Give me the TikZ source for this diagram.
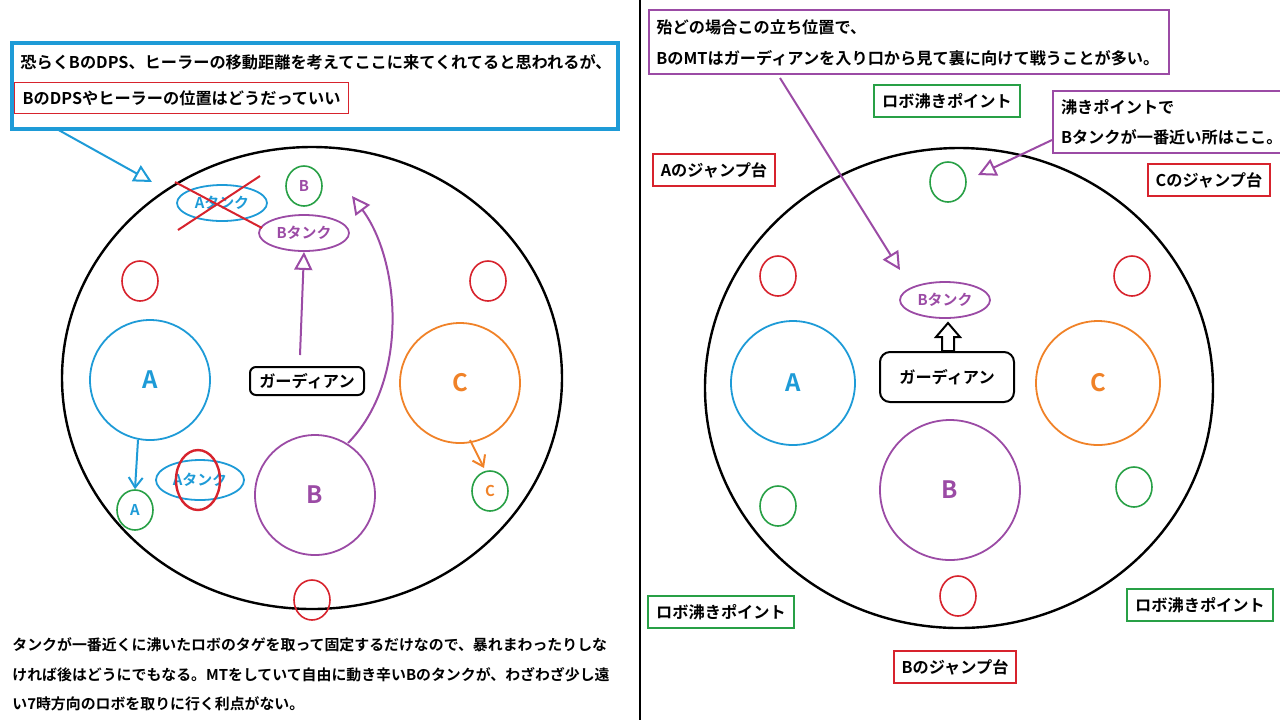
\documentclass[tikz,border=0pt]{standalone}
\usepackage{fontspec}
\setmainfont{Noto Sans CJK JP}[BoldFont={* Bold}]
\usetikzlibrary{arrows.meta}
\definecolor{cblue}{RGB}{30,155,215}
\definecolor{cred}{RGB}{215,35,45}
\definecolor{cgreen}{RGB}{40,160,70}
\definecolor{cpurple}{RGB}{155,75,165}
\definecolor{corange}{RGB}{240,130,40}
\tikzset{
  txt/.style={font=\bfseries\fontsize{8.1}{10}\selectfont, inner sep=2pt},
  bodytxt/.style={font=\bfseries\fontsize{7.45}{9}\selectfont, inner sep=2pt},
  labelbox/.style={txt, draw=#1, line width=1pt, inner xsep=4pt, inner ysep=4pt},
  spot/.style={draw=#1, line width=0.8pt, ellipse, minimum width=18pt, minimum height=20pt, inner sep=0pt},
  tankov/.style={draw=#1, line width=0.9pt, ellipse, text=#1, minimum width=45pt, minimum height=18pt, inner sep=0pt, bodytxt},
  zone/.style={draw=#1, line width=0.9pt, circle, minimum size=60pt, text=#1, font=\bfseries\fontsize{12}{12}\selectfont},
  openarr/.style={draw=#1, line width=1pt, -{Triangle[open, length=9pt, width=9pt]}},
  thinarr/.style={draw=#1, line width=1pt, -{Straight Barb[length=5pt, width=7pt]}}
}
\usetikzlibrary{shapes.geometric}
\begin{document}
\begin{tikzpicture}[x=0.5pt,y=-0.5pt]
  \useasboundingbox (0,0) rectangle (1280,720);

  % Left half

  \draw[line width=1.2pt] (312,378) ellipse [x radius=250, y radius=231];
  \draw[line width=1pt] (640,0) -- (640,720);

  \node[draw=cblue, line width=2pt, minimum width=303pt, minimum height=43pt, anchor=north west] (noteBox) at (10,41) {};
  \node[txt, anchor=west] (noteA) at (16,62) {恐らくBのDPS、ヒーラーの移動距離を考えてここに来てくれてると思われるが、};
  \node[txt, draw=cred, line width=0.6pt, anchor=west, inner sep=4pt] (noteB) at (14,98) {BのDPSやヒーラーの位置はどうだっていい};

  \node[tankov=cblue] (aTankTop) at (222,203) {Aタンク};
  \node[spot=cgreen, text=cpurple, bodytxt] (bSpotL) at (304,186) {B};
  \node[tankov=cpurple] (bTankL) at (304,233) {Bタンク};
  \draw[cred, line width=1pt] (175,182) -- (262,228);
  \draw[cred, line width=1pt] (178,230) -- (260,176);

  \coordinate (noteEnd) at (152,182);
  \draw[openarr=cblue] (55,128) -- (noteEnd);

  \node[spot=cred] (redL1) at (140,281) {};
  \node[spot=cred] (redL2) at (488,281) {};
  \node[spot=cred] (redL3) at (312,600) {};

  \node[zone=cblue] (zoneAL) at (150,380) {A};
  \node[zone=corange] (zoneCL) at (460,383) {C};
  \node[zone=cpurple] (zoneBL) at (315,495) {B};
  \node[txt, draw, line width=1pt, rounded corners=3pt, minimum width=57pt, minimum height=14pt] (guardL) at (307,381) {ガーディアン};

  \draw[openarr=cpurple] (300,355) -- (bTankL.south);
  \draw[openarr=cpurple] (348,443) .. controls (410,380) and (400,260) .. (352,196);

  \node[spot=cgreen, text=cblue, bodytxt] (aSpot) at (135,510) {A};
  \node[tankov=cblue, minimum width=43pt, minimum height=20pt] (aTankBot) at (200,480) {Aタンク};
  \node[draw=cred, line width=1.2pt, ellipse, minimum width=22pt, minimum height=30pt] (aCross) at (198,480) {};
  \draw[thinarr=cblue] (138,440) -- (aSpot.north);
  \node[spot=cgreen, text=corange, bodytxt] (cSpot) at (490,491) {C};
  \draw[thinarr=corange] (470,440) -- (484,468);

  \node[bodytxt, anchor=west] (bodyA) at (8,645) {タンクが一番近くに沸いたロボのタゲを取って固定するだけなので、暴れまわったりしな};
  \node[bodytxt, anchor=west] (bodyB) at (8,675) {ければ後はどうにでもなる。MTをしていて自由に動き辛いBのタンクが、わざわざ少し遠};
  \node[bodytxt, anchor=west] (bodyC) at (8,704) {い7時方向のロボを取りに行く利点がない。};

  % Right half

  \draw[line width=1.2pt] (959,388) ellipse [x radius=254, y radius=240];

  \node[draw=cpurple, line width=1pt, anchor=north west, minimum width=260pt, minimum height=32pt] (posBox) at (648,9) {};
  \node[txt, anchor=west] (posA) at (652,27) {殆どの場合この立ち位置で、};
  \node[txt, anchor=west] (posB) at (652,58) {BのMTはガーディアンを入り口から見て裏に向けて戦うことが多い。};
  \node[labelbox=cgreen] (roboTop) at (947,101) {ロボ沸きポイント};
  \node[txt, draw=cpurple, line width=1pt, anchor=north west, align=left, inner sep=4pt] (nearBox) at (1052,90) {沸きポイントで\\[5pt]Bタンクが一番近い所はここ。};
  \node[labelbox=cred] (jumpA) at (714,170) {Aのジャンプ台};
  \node[labelbox=cred] (jumpC) at (1209,180) {Cのジャンプ台};
  \node[labelbox=cgreen] (roboL) at (721,612) {ロボ沸きポイント};
  \node[labelbox=cgreen] (roboR) at (1200,605) {ロボ沸きポイント};
  \node[labelbox=cred] (jumpB) at (955,667) {Bのジャンプ台};

  \node[spot=cgreen] (greenR1) at (948,182) {};
  \node[spot=cgreen] (greenR2) at (778,506) {};
  \node[spot=cgreen] (greenR3) at (1134,487) {};
  \node[spot=cred] (redR1) at (778,276) {};
  \node[spot=cred] (redR2) at (1132,276) {};
  \node[spot=cred] (redR3) at (958,596) {};

  \node[tankov=cpurple] (bTankR) at (945,300) {Bタンク};
  \node[txt, draw, line width=1pt, rounded corners=5pt, minimum width=67pt, minimum height=25pt] (guardR) at (947,377) {ガーディアン};
  \draw[line width=1pt, fill=white] (942,351) -- (942,337) -- (936,337) -- (948,323) -- (960,337) -- (954,337) -- (954,351) -- cycle;

  \node[zone=cblue, minimum size=62pt] (zoneAR) at (793,383) {A};
  \node[zone=corange, minimum size=62pt] (zoneCR) at (1098,383) {C};
  \node[zone=cpurple, minimum size=70pt] (zoneBR) at (950,490) {B};

  \coordinate (posEnd) at (900,270);
  \draw[openarr=cpurple] (780,78) -- (posEnd);
  \draw[openarr=cpurple] (nearBox.west |- 0,140) -- (978,175);

\end{tikzpicture}
\end{document}
